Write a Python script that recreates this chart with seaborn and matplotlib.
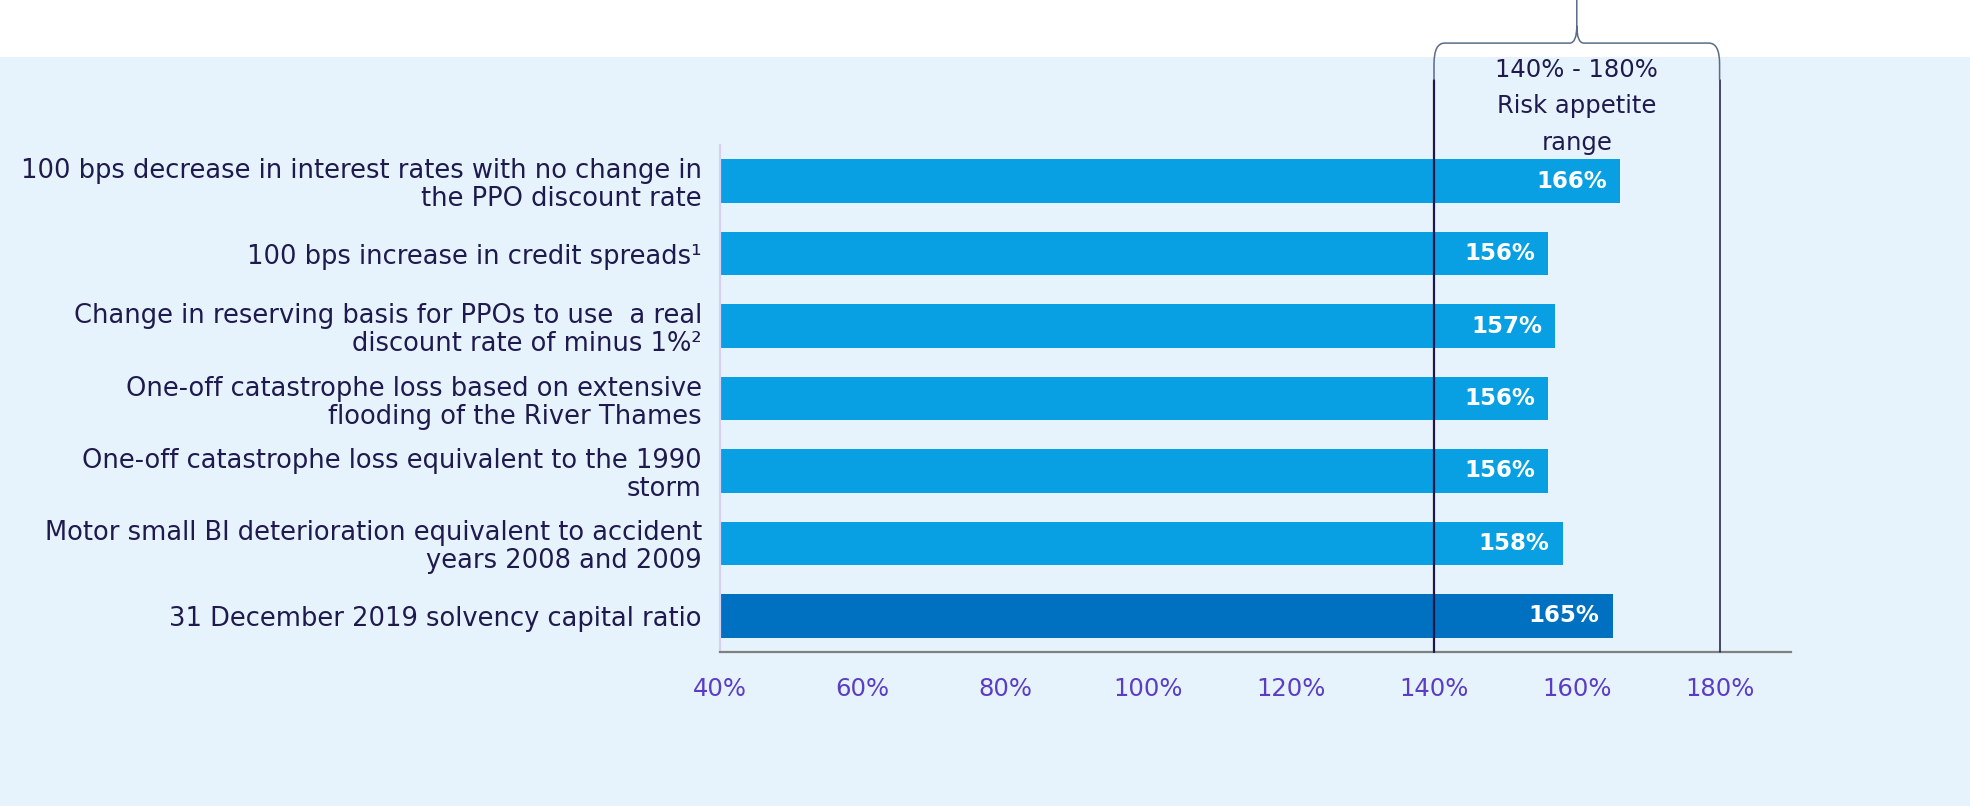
import numpy as np
import pandas as pd
import matplotlib
matplotlib.use("Agg")
import matplotlib.pyplot as plt
from matplotlib.patches import Rectangle, PathPatch
from matplotlib.path import Path
import seaborn as sns

# Chart data
scenarios = [
    "100 bps decrease in interest rates with no change in\nthe PPO discount rate",
    "100 bps increase in credit spreads\u00b9",
    "Change in reserving basis for PPOs to use  a real\ndiscount rate of minus 1%\u00b2",
    "One-off catastrophe loss based on extensive\nflooding of the River Thames",
    "One-off catastrophe loss equivalent to the 1990\nstorm",
    "Motor small BI deterioration equivalent to accident\nyears 2008 and 2009",
    "31 December 2019 solvency capital ratio",
]
ratios = [166, 156, 157, 156, 156, 158, 165]
bar_colors = ["#08A0E2"] * 6 + ["#0070C0"]
x_ticks = [40, 60, 80, 100, 120, 140, 160, 180]
range_low, range_high = 140, 180
range_label = "140% - 180%\nRisk appetite\nrange"

navy = "#1F1A4E"
purple = "#5B3DC5"
lavender = "#D8CFF4"
bg = "#E6F3FC"

sns.set_style("white")
plt.rcParams["font.family"] = ["DejaVu Sans"]

df = pd.DataFrame({"scenario": scenarios, "ratio": ratios})

fig = plt.figure(figsize=(19.7, 8.06), dpi=100)
fig.patch.set_facecolor("white")
# light blue panel behind the chart
fig.patches.append(Rectangle((0, 0), 1, 749 / 806, transform=fig.transFigure,
                             facecolor=bg, edgecolor="none", zorder=-10))

ax = fig.add_axes([720 / 1970, 154 / 806, (1791 - 720) / 1970, (652 - 145) / 806])
ax.set_facecolor("none")

sns.barplot(data=df, x="ratio", y="scenario", hue="scenario",
            palette=dict(zip(scenarios, bar_colors)), legend=False,
            orient="h", width=0.6, saturation=1, linewidth=0, ax=ax)

ax.set_xlim(40, 190)
ax.set_ylim(6.5, -0.5)
ax.set_xlabel("")
ax.set_ylabel("")

# value labels inside bar ends
for i, v in enumerate(ratios):
    ax.annotate(f"{v}%", xy=(v, i), xytext=(-13, 0), textcoords="offset pixels",
                ha="right", va="center", color="white", fontsize=16.5,
                fontweight="bold", zorder=5)

# axes styling
for s in ["top", "right"]:
    ax.spines[s].set_visible(False)
ax.spines["bottom"].set_color("#808080")
ax.spines["bottom"].set_linewidth(1.6)
ax.spines["left"].set_color(lavender)
ax.spines["left"].set_linewidth(1.6)

ax.set_xticks(x_ticks)
ax.set_xticklabels([f"{t}%" for t in x_ticks])
ax.set_xticks(np.arange(40, 190, 4), minor=True)
ax.tick_params(axis="x", which="major", length=6, width=1.5, color="#808080",
               labelcolor=purple, labelsize=17.5, pad=12)
ax.tick_params(axis="x", which="minor", length=4.5, width=1.2, color="#8a8a8a")

ax.set_yticks(range(len(scenarios)))
ax.set_yticklabels(scenarios, color=navy, fontsize=18.5, linespacing=1.1)
ax.set_yticks(np.arange(-0.5, len(scenarios)), minor=True)
ax.tick_params(axis="y", which="major", length=0, pad=13)
ax.tick_params(axis="y", which="minor", length=4, width=1.4, color=lavender)

# risk appetite range lines and bracket
trans = ax.get_xaxis_transform()
line_top = 1.128
ax.plot([range_low, range_low], [0, line_top], transform=trans, clip_on=False,
        color="#1E1548", lw=1.6, zorder=4)
ax.plot([range_high, range_high], [0, line_top], transform=trans, clip_on=False,
        color="#1E1548", lw=1.1, zorder=4)

mid = (range_low + range_high) / 2
y_bar = 1.201
y_tip = 1.29
verts = [
    (range_low, line_top), (range_low, 1.16), (range_low, y_bar), (range_low + 1.5, y_bar),
    (mid - 1.0, y_bar), (mid, y_bar), (mid, 1.235), (mid, y_tip),
    (mid, 1.235), (mid, y_bar), (mid + 1.0, y_bar),
    (range_high - 1.5, y_bar), (range_high, y_bar), (range_high, 1.16), (range_high, line_top),
]
codes = [Path.MOVETO, Path.LINETO, Path.CURVE3, Path.CURVE3,
         Path.LINETO, Path.CURVE3, Path.CURVE3, Path.LINETO,
         Path.MOVETO, Path.CURVE3, Path.CURVE3,
         Path.LINETO, Path.CURVE3, Path.CURVE3, Path.LINETO]
bracket = PathPatch(Path(verts, codes), transform=trans, facecolor="none",
                    edgecolor="#5B6B86", lw=1.1, clip_on=False, zorder=4)
ax.add_patch(bracket)

ax.text(mid, 1.076, range_label, transform=trans, ha="center", va="center",
        multialignment="center", color=navy, fontsize=17.5, linespacing=1.68)

fig.savefig("out.png", dpi=100, facecolor=fig.get_facecolor())
